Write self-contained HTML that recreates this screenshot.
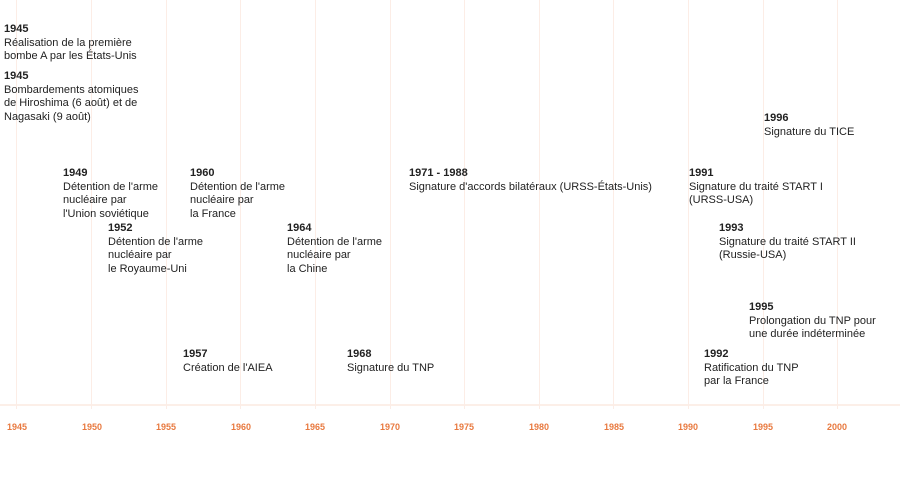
<!DOCTYPE html>
<html><head><meta charset="utf-8"><style>
body{margin:0;width:900px;height:478px;background:#fff;position:relative;overflow:hidden;font-family:"Liberation Sans",Arial,sans-serif;}
.g{position:absolute;top:0;height:409px;width:1px;background:#fcede6;}
.h{position:absolute;left:0;width:900px;top:404px;height:2px;background:#fcefe8;}
.t{position:absolute;color:#e8793f;font-weight:bold;top:422px;transform:translateX(-50%);font-size:9px;}
.b{position:absolute;font-size:11px;line-height:13.5px;color:#222;white-space:nowrap;margin-top:2px;}
.b b{font-weight:bold;}
</style></head><body>
<div class="h"></div>
<div class="g" style="left:16px"></div><div class="g" style="left:91px"></div><div class="g" style="left:166px"></div><div class="g" style="left:240px"></div><div class="g" style="left:315px"></div><div class="g" style="left:390px"></div><div class="g" style="left:464px"></div><div class="g" style="left:539px"></div><div class="g" style="left:613px"></div><div class="g" style="left:688px"></div><div class="g" style="left:763px"></div><div class="g" style="left:837px"></div>
<div class="t" style="left:17px">1945</div><div class="t" style="left:92px">1950</div><div class="t" style="left:166px">1955</div><div class="t" style="left:241px">1960</div><div class="t" style="left:315px">1965</div><div class="t" style="left:390px">1970</div><div class="t" style="left:464px">1975</div><div class="t" style="left:539px">1980</div><div class="t" style="left:614px">1985</div><div class="t" style="left:688px">1990</div><div class="t" style="left:763px">1995</div><div class="t" style="left:837px">2000</div>
<div class="b" style="left:4px;top:21px"><b>1945</b><br>Réalisation de la première<br>bombe A par les États-Unis</div>
<div class="b" style="left:4px;top:68px"><b>1945</b><br>Bombardements atomiques<br>de Hiroshima (6 août) et de<br>Nagasaki (9 août)</div>
<div class="b" style="left:63px;top:165px"><b>1949</b><br>Détention de l'arme<br>nucléaire par<br>l'Union soviétique</div>
<div class="b" style="left:108px;top:220px"><b>1952</b><br>Détention de l'arme<br>nucléaire par<br>le Royaume-Uni</div>
<div class="b" style="left:190px;top:165px"><b>1960</b><br>Détention de l'arme<br>nucléaire par<br>la France</div>
<div class="b" style="left:287px;top:220px"><b>1964</b><br>Détention de l'arme<br>nucléaire par<br>la Chine</div>
<div class="b" style="left:183px;top:346px"><b>1957</b><br>Création de l'AIEA</div>
<div class="b" style="left:347px;top:346px"><b>1968</b><br>Signature du TNP</div>
<div class="b" style="left:409px;top:165px"><b>1971 - 1988</b><br>Signature d'accords bilatéraux (URSS-États-Unis)</div>
<div class="b" style="left:689px;top:165px"><b>1991</b><br>Signature du traité START I<br>(URSS-USA)</div>
<div class="b" style="left:719px;top:220px"><b>1993</b><br>Signature du traité START II<br>(Russie-USA)</div>
<div class="b" style="left:764px;top:110px"><b>1996</b><br>Signature du TICE</div>
<div class="b" style="left:749px;top:299px"><b>1995</b><br>Prolongation du TNP pour<br>une durée indéterminée</div>
<div class="b" style="left:704px;top:346px"><b>1992</b><br>Ratification du TNP<br>par la France</div>
</body></html>
